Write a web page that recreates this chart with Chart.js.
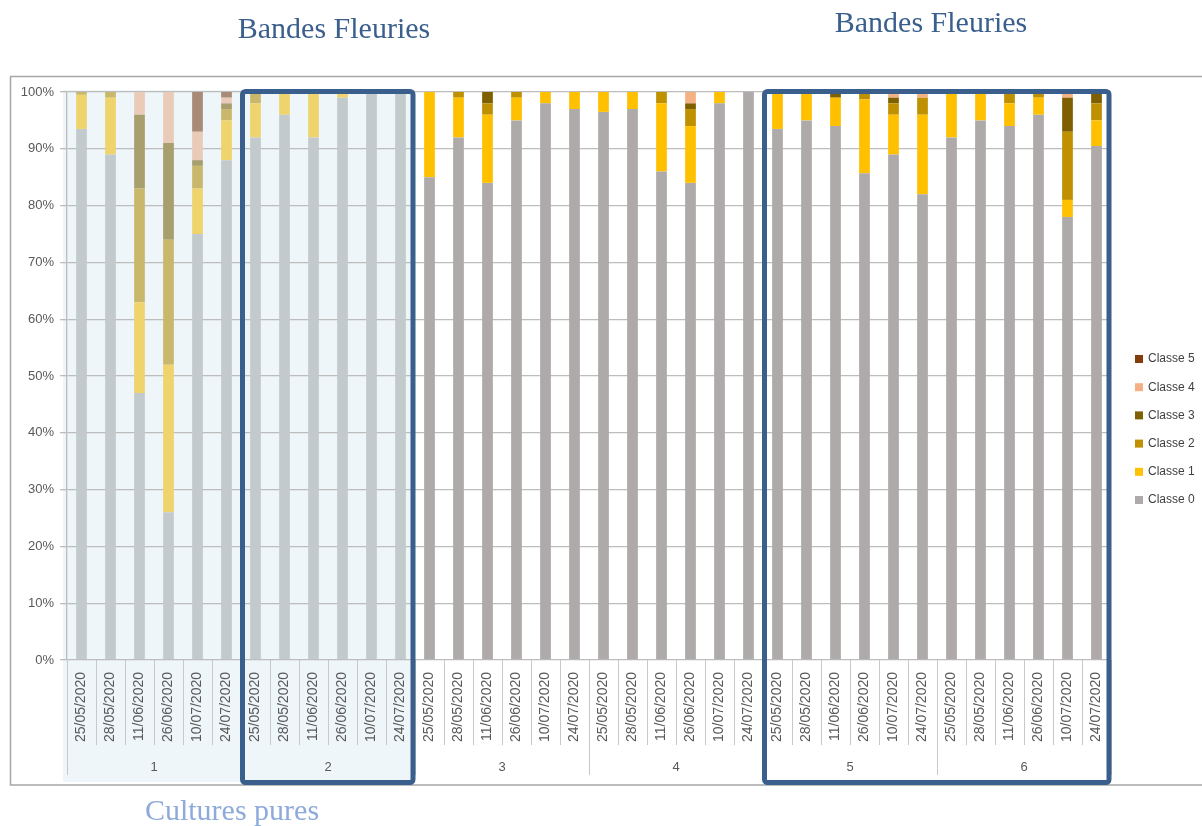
<!DOCTYPE html>
<html>
<head>
<meta charset="utf-8">
<script src="https://cdn.jsdelivr.net/npm/chart.js@4.4.1/dist/chart.umd.min.js"></script>
<style>
  html, body { margin: 0; padding: 0; background: #ffffff; }
  #wrap { position: relative; width: 1202px; height: 826px; }
  canvas { display: block; }
</style>
</head>
<body>
<div id="wrap"><canvas id="c" width="1202" height="826"></canvas></div>
<script>
// ---- data ----
const dates = ['25/05/2020', '28/05/2020', '11/06/2020', '26/06/2020', '10/07/2020', '24/07/2020'];
const groups = ['1', '2', '3', '4', '5', '6'];
const classNames = ['Classe 0', 'Classe 1', 'Classe 2', 'Classe 3', 'Classe 4', 'Classe 5'];

// values in %, 36 bars: group 1..6, each with the 6 dates
const classe0 = [93.5, 89, 47, 26, 75, 88,   92, 96, 92, 99, 100, 100,   85, 92, 84, 95, 98, 97,
                 96.5, 97, 86, 84, 98, 100,  93.5, 95, 94, 85.7, 89, 82,  92, 95, 94, 96, 78, 90.5];
const classe1 = [6, 10, 16, 26, 8, 7,        6, 4, 8, 1, 0, 0,           15, 7, 12, 4, 2, 3,
                 3.5, 3, 12, 10, 2, 0,       6.5, 5, 5, 13, 7, 14,        8, 5, 4, 3, 3, 4.5];
const classe2 = [0.5, 1, 20, 22, 4, 2,       2, 0, 0, 0, 0, 0,           0, 1, 2, 1, 0, 0,
                 0, 0, 2, 3, 0, 0,           0, 0, 0, 1.3, 2, 3,          0, 0, 2, 1, 12, 3];
const classe3 = [0, 0, 13, 17, 1, 1,         0, 0, 0, 0, 0, 0,           0, 0, 2, 0, 0, 0,
                 0, 0, 0, 1, 0, 0,           0, 0, 1, 0, 1, 0,            0, 0, 0, 0, 6, 2];
const classe4 = [0, 0, 4, 9, 5, 1,           0, 0, 0, 0, 0, 0,           0, 0, 0, 0, 0, 0,
                 0, 0, 0, 2, 0, 0,           0, 0, 0, 0, 1, 1,            0, 0, 0, 0, 1, 0];
const classe5 = [0, 0, 0, 0, 7, 1,           0, 0, 0, 0, 0, 0,           0, 0, 0, 0, 0, 0,
                 0, 0, 0, 0, 0, 0,           0, 0, 0, 0, 0, 0,            0, 0, 0, 0, 0, 0];
const yTicks = [0, 10, 20, 30, 40, 50, 60, 70, 80, 90, 100];

// ---- styles ----
const baseColors   = ['#aeaaaa', '#ffc000', '#bf9000', '#7f6000', '#f4b183', '#843c0c'];
const washedColors = ['#c3cacc', '#efd36c', '#c9b86c', '#a89e6e', '#e9cbb8', '#a98a77'];
const shadedBars = 12; // groups 1 and 2 are under the light-blue shading

const labels = [];
groups.forEach(() => dates.forEach(d => labels.push(d)));
const series = [classe0, classe1, classe2, classe3, classe4, classe5];

const datasets = series.map((vals, k) => ({
  label: classNames[k],
  data: vals,
  backgroundColor: (ctx) => ctx.dataIndex < shadedBars ? washedColors[k] : baseColors[k],
  borderWidth: 0,
  categoryPercentage: 1.0,
  barPercentage: 0.37
}));

function boundary(xs, i) {
  // pixel of the boundary before category i
  const n = labels.length;
  const w = xs.getPixelForValue(1) - xs.getPixelForValue(0);
  if (i >= n) return xs.getPixelForValue(n - 1) + w / 2;
  return xs.getPixelForValue(i) - w / 2;
}

const decor = {
  id: 'decor',
  beforeDraw(chart) {
    const ctx = chart.ctx;
    const xs = chart.scales.x;
    ctx.save();
    ctx.fillStyle = '#ffffff';
    ctx.fillRect(0, 0, chart.width, chart.height);
    // light blue shading behind groups 1-2
    const x0 = boundary(xs, 0) - 4;
    const x1 = boundary(xs, 12);
    ctx.fillStyle = '#eef6f9';
    ctx.fillRect(x0, 90, x1 - x0, 692);
    // outer chart border
    ctx.strokeStyle = '#a6a6a6';
    ctx.lineWidth = 1.5;
    ctx.strokeRect(10.5, 76.5, 1300, 708.5);
    ctx.restore();
  },
  afterDraw(chart) {
    const ctx = chart.ctx;
    const xs = chart.scales.x;
    const bottom = chart.chartArea.bottom;
    ctx.save();
    // category separators in the axis area
    for (let i = 0; i <= labels.length; i++) {
      const x = Math.round(boundary(xs, i)) + 0.5;
      const long = (i % dates.length === 0);
      ctx.strokeStyle = '#c8c8c8';
      ctx.lineWidth = 1;
      ctx.beginPath();
      ctx.moveTo(x, bottom);
      ctx.lineTo(x, long ? 775 : 745);
      ctx.stroke();
    }
    // group labels
    ctx.fillStyle = '#595959';
    ctx.font = '13px "Liberation Sans", Arial, sans-serif';
    ctx.textAlign = 'center';
    ctx.textBaseline = 'middle';
    groups.forEach((g, gi) => {
      const a = xs.getPixelForValue(gi * dates.length);
      const b = xs.getPixelForValue(gi * dates.length + dates.length - 1);
      ctx.fillText(g, (a + b) / 2, 767);
    });
    // blue frames (groups 2 and 5-6)
    ctx.strokeStyle = '#3a5f8c';
    ctx.lineWidth = 5;
    const frames = [[6, 12], [24, 36]];
    frames.forEach(([s, e]) => {
      const l = boundary(xs, s) + 1.5;
      const r = boundary(xs, e) - 2;
      ctx.beginPath();
      if (ctx.roundRect) ctx.roundRect(l, 91.5, r - l, 691, 3);
      else ctx.rect(l, 91.5, r - l, 691);
      ctx.stroke();
    });
    // titles
    ctx.textBaseline = 'alphabetic';
    ctx.font = '30px "Liberation Serif", "DejaVu Serif", serif';
    ctx.fillStyle = '#3a5f8c';
    ctx.fillText('Bandes Fleuries', 334, 38);
    ctx.fillText('Bandes Fleuries', 931, 32);
    ctx.fillStyle = '#8eaadb';
    ctx.fillText('Cultures pures', 232, 820);
    // legend (Classe 5 on top)
    ctx.font = '12px "Liberation Sans", Arial, sans-serif';
    ctx.textAlign = 'left';
    ctx.textBaseline = 'middle';
    const legendTop = 359, legendStep = 28.2;
    for (let k = classNames.length - 1, row = 0; k >= 0; k--, row++) {
      const y = legendTop + row * legendStep;
      ctx.fillStyle = baseColors[k];
      ctx.fillRect(1135, y - 4, 8, 8);
      ctx.fillStyle = '#404040';
      ctx.fillText(classNames[k], 1148, y);
    }
    ctx.restore();
  }
};

new Chart(document.getElementById('c'), {
  type: 'bar',
  data: { labels: labels, datasets: datasets },
  options: {
    responsive: false,
    animation: false,
    events: [],
    layout: { padding: { top: 92, right: 91, bottom: 0, left: 0 } },
    plugins: {
      legend: { display: false },
      tooltip: { enabled: false },
      title: { display: false }
    },
    scales: {
      x: {
        stacked: true,
        offset: true,
        afterFit: (s) => { s.height = 166; },
        grid: { display: false },
        border: { display: false },
        ticks: {
          autoSkip: false,
          maxRotation: 90,
          minRotation: 90,
          padding: 4,
          color: '#595959',
          font: { family: '"Liberation Sans", Arial, sans-serif', size: 14 }
        }
      },
      y: {
        stacked: true,
        min: 0,
        max: 100,
        afterFit: (s) => { s.width = 67; },
        afterBuildTicks: (s) => { s.ticks = yTicks.map(v => ({ value: v })); },
        grid: { color: '#bdbdbd', lineWidth: 1.3, tickLength: 7 },
        border: { color: '#bdbdbd', width: 1.3 },
        ticks: {
          padding: 6,
          color: '#595959',
          font: { family: '"Liberation Sans", Arial, sans-serif', size: 13 },
          callback: (v) => v + '%'
        }
      }
    }
  },
  plugins: [decor]
});
</script>
</body>
</html>
